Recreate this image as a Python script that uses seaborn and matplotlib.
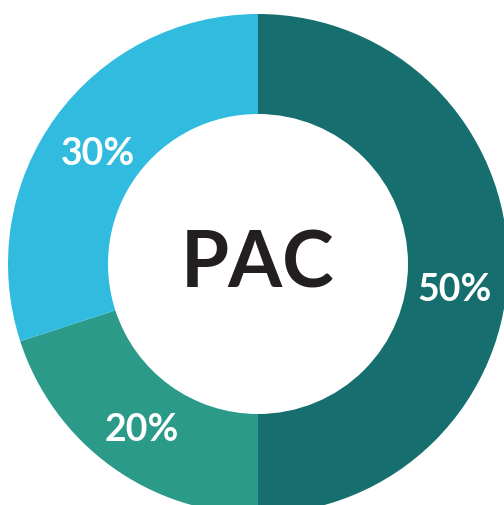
import matplotlib
matplotlib.use("Agg")
import matplotlib.pyplot as plt
import seaborn as sns

sns.set_theme(style="white")
plt.rcParams["font.family"] = ["Lato", "DejaVu Sans"]

# ── data ─────────────────────────────────────────────────────────────────────
labels = ["50%", "20%", "30%"]
shares = [50, 20, 30]
colors = ["#176E6E", "#2B9A89", "#31BBDF"]
centre_text = "PAC"

fig = plt.figure(figsize=(5.04, 5.06), dpi=100)
ax = fig.add_axes([0, 0, 1, 1])

wedges, texts, autotexts = ax.pie(
    shares, colors=colors, startangle=90, counterclock=False,
    radius=1.0, wedgeprops=dict(width=0.4, linewidth=0),
    autopct=lambda p: f"{p:.0f}%", pctdistance=0.79,
    textprops=dict(color="white", fontsize=27, fontweight="bold"))

# the 50% label sits a little below the slice midpoint
x, y = autotexts[0].get_position()
autotexts[0].set_position((x - 0.005, y - 0.1))
for t in autotexts[1:]:
    tx, ty = t.get_position()
    t.set_position((tx, ty - 0.02))

ax.text(0, 0.0, centre_text, ha="center", va="center",
        fontsize=56, fontweight="bold", color="#231F20")

ax.set_xlim(-1.032, 0.984)
ax.set_ylim(-0.964, 1.06)
ax.set_aspect("equal")
ax.axis("off")

fig.savefig("out.png", dpi=100, facecolor="white")
